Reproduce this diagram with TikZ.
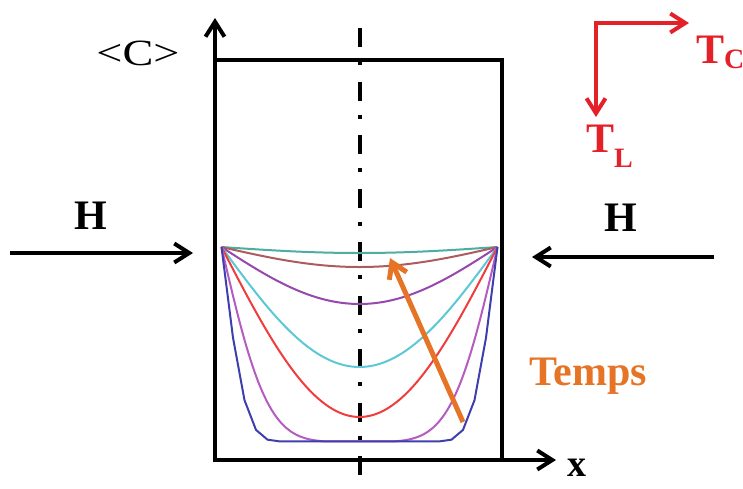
\documentclass[tikz,border=0pt]{standalone}
\usepackage{fontspec}
\setmainfont{Liberation Serif}
\usetikzlibrary{arrows.meta}
\definecolor{rouge}{RGB}{228,32,40}
\definecolor{orange}{RGB}{230,116,38}
\definecolor{c1}{RGB}{78,172,162}
\definecolor{c2}{RGB}{172,92,92}
\definecolor{c3}{RGB}{150,72,172}
\definecolor{c4}{RGB}{92,200,214}
\definecolor{c5}{RGB}{240,60,60}
\definecolor{c6}{RGB}{180,92,192}
\definecolor{c7}{RGB}{62,62,172}
\newcommand{\gros}{\fontsize{42}{46}\selectfont\bfseries}
\begin{document}
\begin{tikzpicture}[x=1pt,y=-1pt,
  >={Straight Barb[length=15pt,width=19pt]},
  trait/.style={line width=4pt},
  courbe/.style={line width=2pt},
  declare function={erfa(\z)=tanh(1.1284*min(\z,2)+0.1009*min(\z,2)^3);}]
\useasboundingbox (0,0) rectangle (743,488);
% axes and box
\coordinate (ytip) at (215,18);
\coordinate (xtip) at (556,460);
\draw[trait,<->] (ytip) |- (xtip);
\draw[trait] (215,60) -| (502,460);
\draw[line width=4pt, dash pattern=on 19pt off 14pt on 4pt off 16.5pt] (360,28) -- (360,490);
\node (conc) at (138,53) {\fontsize{37}{40}\selectfont\scalebox{1.25}[1]{<C>}};
\node[anchor=base,inner sep=0pt] (xlab) at (577,476) {\fontsize{38}{40}\selectfont\bfseries x};
% flux H
\coordinate (hg1) at (10,253);
\coordinate (hg2) at (193,253);
\coordinate (hd1) at (714,257);
\coordinate (hd2) at (532,257);
\draw[trait,->] (hg1) -- (hg2);
\draw[trait,->] (hd1) -- (hd2);
\node (hg) at (91,216) {\gros H};
\node (hd) at (621,218) {\gros H};
% profiles
\draw[courbe,c1] plot[domain=-1:1,samples=41,smooth] ({359.5+138*\x},{247+6*cos(90*\x)});
\draw[courbe,c2] plot[domain=-1:1,samples=41,smooth] ({359.5+138*\x},{247+20*cos(90*\x)});
\draw[courbe,c3] plot[domain=-1:1,samples=41,smooth] ({359.5+138*\x},{247+57*cos(90*\x)});
\draw[courbe,c4] plot[domain=-1:1,samples=41,smooth] ({359.5+138*\x},{247+120*cos(90*\x)});
\draw[courbe,c5] plot[domain=-1:1,samples=41,smooth] ({359.5+138*\x},{247+170*cos(90*\x)});
\draw[courbe,c6] plot[domain=-1:1,samples=61,smooth] ({359.5+138*\x},{247+196*erfa((1+\x)/0.37)*erfa((1-\x)/0.37)});
\draw[courbe,c7] plot[domain=-1:1,samples=25] ({359.5+138*\x},{247+196*erfa((1+\x)/0.19)*erfa((1-\x)/0.19)});
% time arrow
\coordinate (t1) at (463,422);
\coordinate (t2) at (390,258);
\draw[line width=5pt,orange,->] (t1) -- (t2);
\node[anchor=base west,text=orange] (temps) at (526,385) {\gros Temps};
% TC TL
\coordinate (tc) at (689,23);
\coordinate (tl) at (596,117);
\draw[line width=4pt,rouge,<->] (tl) |- (tc);
\node[anchor=base west,text=rouge,inner sep=0pt] (tcl) at (696,63) {\gros T\raisebox{-5pt}{\fontsize{28}{30}\selectfont C}};
\node[anchor=base west,text=rouge,inner sep=0pt] (tll) at (586,152) {\gros T\raisebox{-15pt}{\fontsize{28}{30}\selectfont L}};
\end{tikzpicture}
\end{document}
